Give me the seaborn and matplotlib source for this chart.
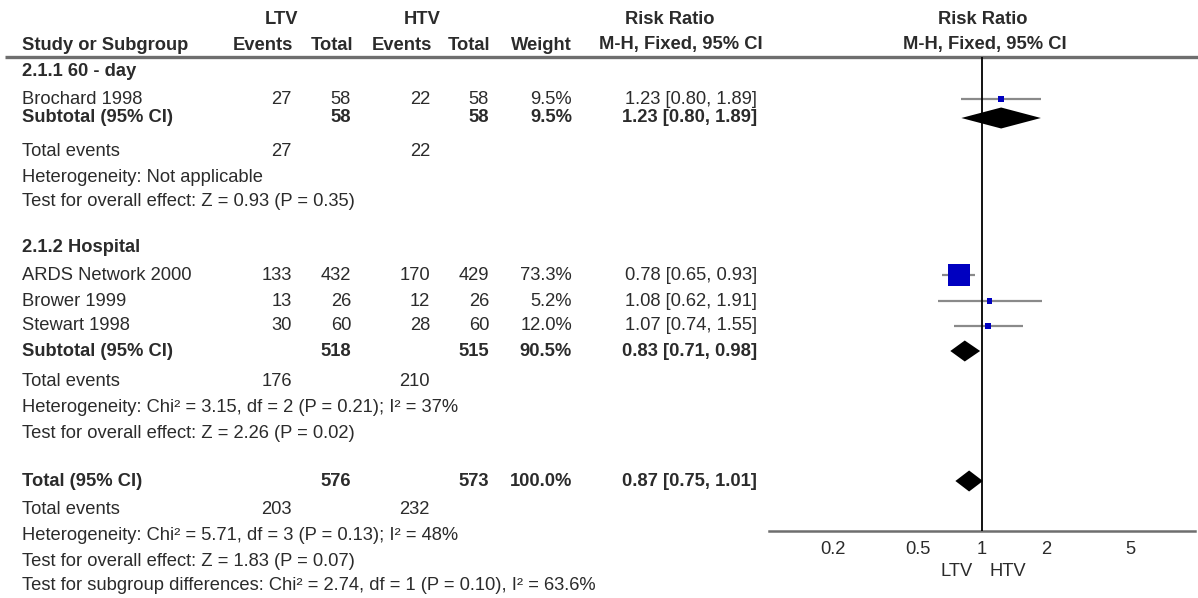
import numpy as np
import pandas as pd
import matplotlib
matplotlib.use("Agg")
import matplotlib.pyplot as plt
import seaborn as sns

# study level data
studies = ["Brochard 1998", "ARDS Network 2000", "Brower 1999", "Stewart 1998"]
study_group = [0, 1, 1, 1]
ltv_events = [27, 133, 13, 30]
ltv_total = [58, 432, 26, 60]
htv_events = [22, 170, 12, 28]
htv_total = [58, 429, 26, 60]
weight = [9.5, 73.3, 5.2, 12.0]
rr = [1.23, 0.78, 1.08, 1.07]
rr_lo = [0.80, 0.65, 0.62, 0.74]
rr_hi = [1.89, 0.93, 1.91, 1.55]

# subgroup summaries
groups = ["2.1.1 60 - day", "2.1.2 Hospital"]
sub_ltv_total = [58, 518]
sub_htv_total = [58, 515]
sub_weight = [9.5, 90.5]
sub_rr = [1.23, 0.83]
sub_lo = [0.80, 0.71]
sub_hi = [1.89, 0.98]
sub_ltv_events = [27, 176]
sub_htv_events = [22, 210]
sub_het = ["Not applicable", "Chi² = 3.15, df = 2 (P = 0.21); I² = 37%"]
sub_z = ["Z = 0.93 (P = 0.35)", "Z = 2.26 (P = 0.02)"]

# overall
tot_ltv_total = 576
tot_htv_total = 573
tot_weight = 100.0
tot_rr, tot_lo, tot_hi = 0.87, 0.75, 1.01
tot_ltv_events = 203
tot_htv_events = 232
tot_het = "Chi² = 5.71, df = 3 (P = 0.13); I² = 48%"
tot_z = "Z = 1.83 (P = 0.07)"
sub_diff = "Chi² = 2.74, df = 1 (P = 0.10), I² = 63.6%"

ticks = [0.2, 0.5, 1, 2, 5]

W, H = 1198, 598
sns.set_style("white")
plt.rcParams["font.family"] = ["Liberation Sans", "DejaVu Sans"]
TXT = "#2b2b2b"
FS = 13.2

fig = plt.figure(figsize=(W / 100, H / 100), dpi=100)
ax = fig.add_axes([0, 0, 1, 1])
ax.set_xlim(0, W)
ax.set_ylim(H, 0)
ax.axis("off")

# layout: text column right edges and row positions (pixels)
x_name = 22
x_ev_l, x_tot_l, x_ev_h, x_tot_h, x_wt, x_rr = 292, 351, 430, 489, 572, 757
plot_l, plot_r, plot_top, plot_bot = 769, 1195, 57, 531

group_rows = [
    dict(head=71, studies=[99], sub=118, ev=152, het=177, z=202),
    dict(head=247, studies=[275, 301, 326], sub=351, ev=382, het=407, z=433),
]
row_total, row_tot_ev, row_tot_het, row_tot_z, row_diff = 481, 509, 535, 561, 586


def put(x, y, s, ha="right", bold=False, size=FS):
    ax.text(x, y, s, ha=ha, va="center", fontsize=size, color=TXT,
            fontweight="bold" if bold else "normal")


def ci_text(e, lo, hi):
    return f"{e:.2f} [{lo:.2f}, {hi:.2f}]"


# headers
put(282, 19, "LTV", ha="center", bold=True)
put(422, 19, "HTV", ha="center", bold=True)
put(670, 19, "Risk Ratio", ha="center", bold=True)
put(983, 19, "Risk Ratio", ha="center", bold=True)
put(x_name, 45, "Study or Subgroup", ha="left", bold=True)
for x, s in [(x_ev_l + 1, "Events"), (x_tot_l + 2, "Total"), (x_ev_h + 2, "Events"),
             (x_tot_h + 1, "Total"), (x_wt, "Weight")]:
    put(x, 45, s, bold=True)
put(681, 45, "M-H, Fixed, 95% CI", ha="center", bold=True)
put(985, 45, "M-H, Fixed, 95% CI", ha="center", bold=True)
ax.plot([5, W], [plot_top, plot_top], color="#6e6e6e", lw=2.4, solid_capstyle="butt")

# table body
study_y = []
for g, rows in enumerate(group_rows):
    put(x_name, rows["head"], groups[g], ha="left", bold=True)
    idx = [i for i, sg in enumerate(study_group) if sg == g]
    for i, y in zip(idx, rows["studies"]):
        study_y.append(y)
        put(x_name, y, studies[i], ha="left")
        put(x_ev_l, y, str(ltv_events[i]))
        put(x_tot_l, y, str(ltv_total[i]))
        put(x_ev_h, y, str(htv_events[i]))
        put(x_tot_h, y, str(htv_total[i]))
        put(x_wt, y, f"{weight[i]:.1f}%")
        put(x_rr, y, ci_text(rr[i], rr_lo[i], rr_hi[i]))
    y = rows["sub"]
    put(x_name, y, "Subtotal (95% CI)", ha="left", bold=True)
    put(x_tot_l, y, str(sub_ltv_total[g]), bold=True)
    put(x_tot_h, y, str(sub_htv_total[g]), bold=True)
    put(x_wt, y, f"{sub_weight[g]:.1f}%", bold=True)
    put(x_rr, y, ci_text(sub_rr[g], sub_lo[g], sub_hi[g]), bold=True)
    put(x_name, rows["ev"], "Total events", ha="left")
    put(x_ev_l, rows["ev"], str(sub_ltv_events[g]))
    put(x_ev_h, rows["ev"], str(sub_htv_events[g]))
    put(x_name, rows["het"], "Heterogeneity: " + sub_het[g], ha="left")
    put(x_name, rows["z"], "Test for overall effect: " + sub_z[g], ha="left")

put(x_name, row_total, "Total (95% CI)", ha="left", bold=True)
put(x_tot_l, row_total, str(tot_ltv_total), bold=True)
put(x_tot_h, row_total, str(tot_htv_total), bold=True)
put(x_wt, row_total, f"{tot_weight:.1f}%", bold=True)
put(x_rr, row_total, ci_text(tot_rr, tot_lo, tot_hi), bold=True)
put(x_name, row_tot_ev, "Total events", ha="left")
put(x_ev_l, row_tot_ev, str(tot_ltv_events))
put(x_ev_h, row_tot_ev, str(tot_htv_events))
put(x_name, row_tot_het, "Heterogeneity: " + tot_het, ha="left")
put(x_name, row_tot_z, "Test for overall effect: " + tot_z, ha="left")
put(x_name, row_diff, "Test for subgroup differences: " + sub_diff, ha="left")

# forest panel, y in the same pixel rows as the table
axf = fig.add_axes([plot_l / W, 1 - plot_bot / H, (plot_r - plot_l) / W,
                    (plot_bot - plot_top) / H])
axf.set_facecolor("none")
axf.set_xscale("log")
axf.set_xlim(0.1, 10)
axf.set_ylim(plot_bot, plot_top)

df = pd.DataFrame({"study": studies, "rr": rr, "lo": rr_lo, "hi": rr_hi,
                   "weight": weight, "y": study_y})
df["box"] = df["weight"] ** 2

axf.hlines(df["y"], df["lo"], df["hi"], color="#8a8a8a", lw=1.6, zorder=2)
sns.scatterplot(data=df, x="rr", y="y", size="box", sizes=(14, 250), marker="s",
                color="#0000c0", linewidth=0, legend=False, ax=axf, zorder=3)

dh = 10.5
diamonds = [(sub_rr[g], sub_lo[g], sub_hi[g], group_rows[g]["sub"]) for g in range(2)]
diamonds.append((tot_rr, tot_lo, tot_hi, row_total))
for e, lo, hi, y in diamonds:
    axf.fill([lo, e, hi, e], [y, y - dh, y, y + dh], color="black", lw=0, zorder=3)

axf.axvline(1, color="black", lw=1.3, zorder=4)

for s in ["top", "right", "left"]:
    axf.spines[s].set_visible(False)
axf.spines["bottom"].set_color("#6e6e6e")
axf.spines["bottom"].set_linewidth(1.8)
axf.set_xticks(ticks)
axf.set_xticklabels([f"{t:g}" for t in ticks])
axf.xaxis.set_minor_locator(matplotlib.ticker.NullLocator())
axf.tick_params(axis="x", direction="inout", length=13, width=1.5, color="#555555",
                labelsize=FS, labelcolor=TXT, pad=1)
axf.set_yticks([])
axf.set_xlabel("")
axf.set_ylabel("")

put(957, 572, "LTV", ha="center")
put(1008, 572, "HTV", ha="center")

fig.savefig("out.png", dpi=100)
